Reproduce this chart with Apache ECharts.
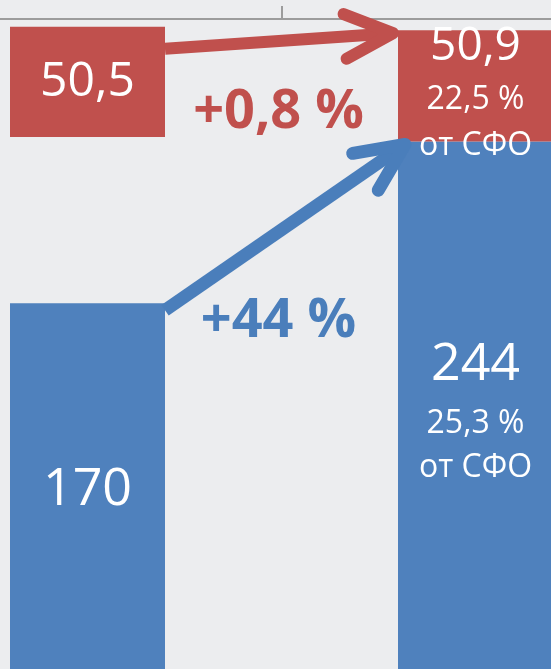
<!DOCTYPE html>
<html>
<head>
<meta charset="utf-8">
<script src="https://cdn.jsdelivr.net/npm/echarts@6/dist/echarts.min.js"></script>
<style>
  html, body { margin: 0; padding: 0; background: #ECEDEF; }
  #main { width: 551px; height: 669px; }
</style>
</head>
<body>
<div id="main"></div>
<script>
// данные
var periods = ['Период 1', 'Период 2'];
var totalValues = [170, 244];      // синие столбцы
var gapValues = [76, 0];           // невидимая подложка под левым красным блоком
var partValues = [50.5, 50.9];     // красные столбцы
var totalShare = ['', '25,3 %'];
var partShare = ['', '22,5 %'];
var shareNote = 'от СФО';
var totalChange = '+44 %';
var partChange = '+0,8 %';

var blue = '#4F81BD';
var red = '#C0504D';
var font = '"Open Sans", "Noto Sans", sans-serif';

function fmt(v) {
    return String(v).replace('.', ',');
}

var myChart = echarts.init(document.getElementById('main'));

option = {
    backgroundColor: '#ECEDEF',
    animation: false,
    textStyle: { fontFamily: font },
    grid: {
        left: -106.5,
        right: -118.5,
        top: 19,
        bottom: -6,
        outerBoundsMode: 'none'
    },
    xAxis: {
        type: 'category',
        position: 'top',
        data: periods,
        axisLine: { onZero: false, lineStyle: { color: '#9C9C9C', width: 2 } },
        axisTick: { show: true, length: 13, lineStyle: { color: '#9C9C9C', width: 2 } },
        axisLabel: { show: false }
    },
    yAxis: {
        type: 'value',
        min: 0,
        max: 300,
        show: false,
        splitLine: { show: false }
    },
    series: [{
        name: 'Всего',
        type: 'bar',
        stack: 'a',
        barWidth: 155,
        data: totalValues,
        itemStyle: { color: blue },
        label: {
            show: true,
            position: 'inside',
            color: '#fff',
            offset: [0, 1],
            formatter: function (p) {
                var s = '{big|' + fmt(p.value) + '}';
                if (totalShare[p.dataIndex]) {
                    s += '\n{small|' + totalShare[p.dataIndex] + '}\n{small|' + shareNote + '}';
                }
                return s;
            },
            rich: {
                big: { fontSize: 52, lineHeight: 74, color: '#fff', fontFamily: font },
                small: { fontSize: 32, lineHeight: 44, color: '#fff', fontFamily: font }
            }
        }
    }, {
        name: 'gap',
        type: 'bar',
        stack: 'a',
        data: gapValues,
        itemStyle: { color: 'transparent' },
        silent: true
    }, {
        name: 'Часть',
        type: 'bar',
        stack: 'a',
        data: partValues,
        itemStyle: { color: red },
        label: {
            show: true,
            position: 'inside',
            color: '#fff',
            offset: [0, 7],
            formatter: function (p) {
                if (partShare[p.dataIndex]) {
                    return '{big|' + fmt(p.value) + '}\n{small|' + partShare[p.dataIndex] + '}\n{small|' + shareNote + '}';
                }
                return '{big2|' + fmt(p.value) + '}';
            },
            rich: {
                big: { fontSize: 46, lineHeight: 60, color: '#fff', fontFamily: font },
                big2: { fontSize: 48, lineHeight: 60, color: '#fff', fontFamily: font, padding: [0, 0, 14, 0] },
                small: { fontSize: 32, lineHeight: 46, color: '#fff', fontFamily: font }
            }
        }
    }]
};

myChart.setOption(option);

// стрелки и подписи прироста — по положению столбцов
function arrow(x1, y1, x2, y2, color, width) {
    var ang = Math.atan2(y1 - y2, x1 - x2);
    var len = 53, spread = 25 * Math.PI / 180;
    var w1 = [x2 + len * Math.cos(ang - spread), y2 + len * Math.sin(ang - spread)];
    var w2 = [x2 + len * Math.cos(ang + spread), y2 + len * Math.sin(ang + spread)];
    var back = [x2 + 4 * Math.cos(ang), y2 + 4 * Math.sin(ang)];
    return [{
        type: 'line',
        z: 10,
        shape: { x1: x1, y1: y1, x2: back[0], y2: back[1] },
        style: { stroke: color, lineWidth: width, lineCap: 'butt' }
    }, {
        type: 'polyline',
        z: 10,
        shape: { points: [w1, [x2, y2], w2] },
        style: { stroke: color, fill: null, lineWidth: width, lineCap: 'round', lineJoin: 'round' }
    }];
}

var half = 155 / 2;
var a = myChart.convertToPixel({ gridIndex: 0 }, [0, totalValues[0]]);
var b = myChart.convertToPixel({ gridIndex: 0 }, [1, totalValues[1]]);
var aTop = myChart.convertToPixel({ gridIndex: 0 }, [0, totalValues[0] + gapValues[0] + partValues[0]]);
var bTop = myChart.convertToPixel({ gridIndex: 0 }, [1, totalValues[1] + partValues[1]]);
var midX = (a[0] + b[0]) / 2;

var graphics = []
    .concat(arrow(a[0] + half, aTop[1] + 22, b[0] - half - 5, bTop[1] + 3, red, 12))
    .concat(arrow(a[0] + half, a[1] + 7, b[0] - half + 7, b[1] + 3, '#4A7EBB', 13));

graphics.push({
    type: 'text', z: 11, x: midX - 3, y: 113,
    style: { text: partChange, fill: red, font: 'bold 54px ' + font, textAlign: 'center', textVerticalAlign: 'middle' }
});
graphics.push({
    type: 'text', z: 11, x: midX - 3, y: 322,
    style: { text: totalChange, fill: '#4A7EBB', font: 'bold 54px ' + font, textAlign: 'center', textVerticalAlign: 'middle' }
});

myChart.setOption({ graphic: graphics });
</script>
</body>
</html>
